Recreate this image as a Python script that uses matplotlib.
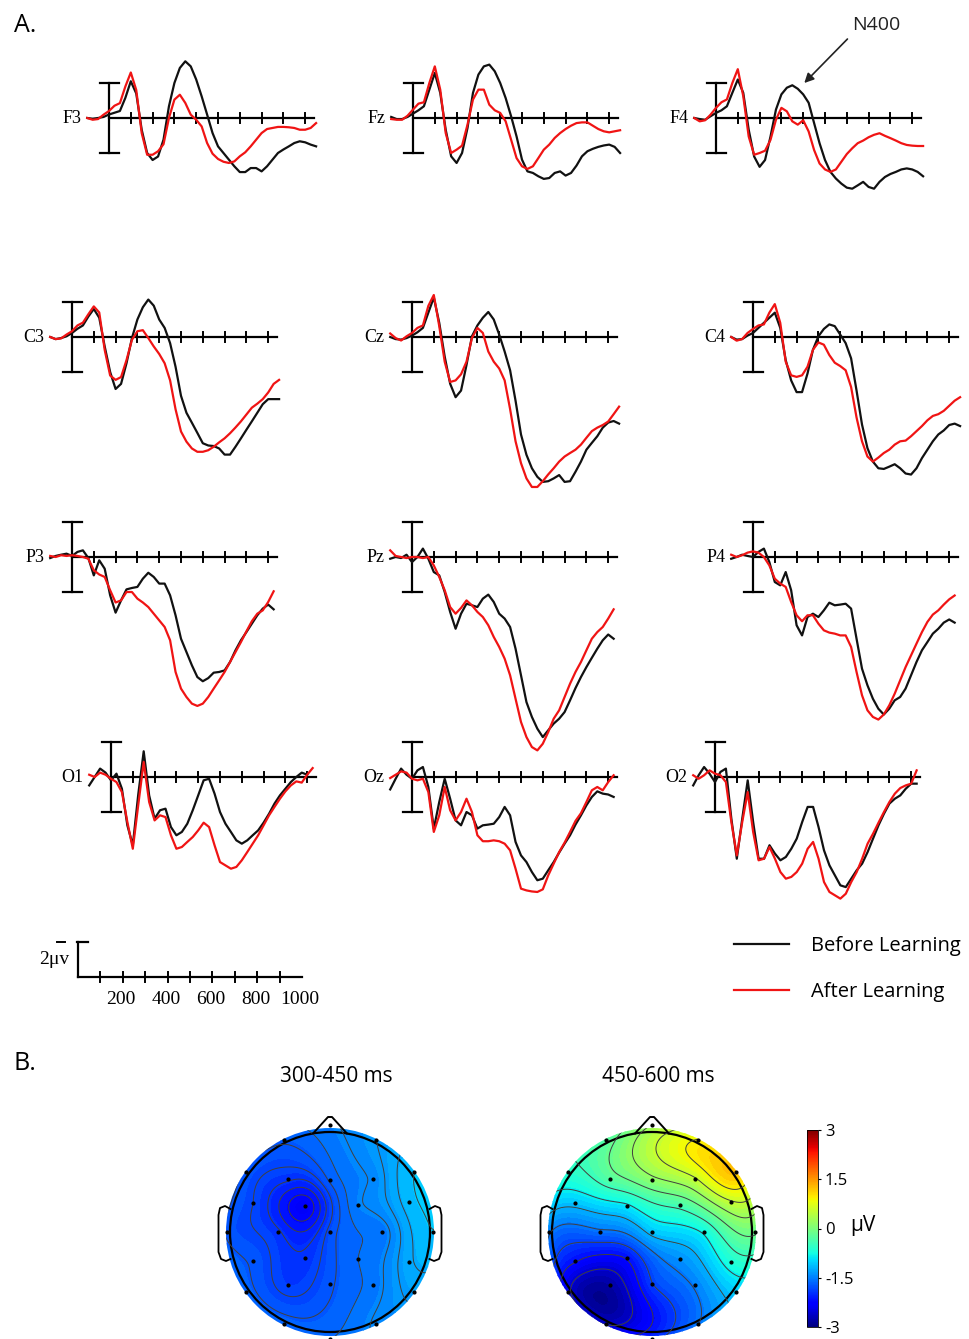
import numpy as np
import matplotlib
matplotlib.use("Agg")
import matplotlib.pyplot as plt
from matplotlib.patches import Circle
from matplotlib.lines import Line2D
from matplotlib.cm import ScalarMappable
from matplotlib.colors import Normalize

plt.rcParams["font.family"] = ["Open Sans", "DejaVu Sans"]
SERIF = ["Liberation Serif", "DejaVu Serif"]
nan = np.nan

# ---------------- data ----------------
# time axis (ms), one sample every 25 ms
times = list(range(-100, 951, 25))

channels = ["F3", "Fz", "F4", "C3", "Cz", "C4", "P3", "Pz", "P4", "O1", "Oz", "O2"]

# amplitudes in microvolts (negative plotted up)
f3_before = [0.0, 0.04, 0.0, -0.06, -0.2, -0.3, -0.4, -1.15, -2.1, -1.4, 0.67, 2.0, 2.4, 2.2, 1.24, -0.67, -2.0, -2.86, -3.24, -2.95, -2.2, -1.24, -0.2, 0.86, 1.62, 2.0, 2.38, 2.76, 3.09, 3.09, 2.86, 2.86, 3.05, 2.76, 2.38, 2.0, 1.8, 1.62, 1.43, 1.33, 1.39, 1.52, 1.62]
f3_after = [0.0, 0.1, 0.06, -0.19, -0.4, -0.7, -0.85, -1.8, -2.6, -1.6, 0.86, 2.1, 2.1, 1.9, 1.5, 0.0, -1.05, -1.33, -0.86, -0.19, 0.1, 0.48, 1.43, 2.04, 2.34, 2.5, 2.57, 2.48, 2.19, 1.96, 1.62, 1.24, 0.86, 0.63, 0.57, 0.51, 0.51, 0.53, 0.57, 0.67, 0.67, 0.57, 0.29]
fz_before = [-0.06, 0.06, 0.06, -0.06, -0.25, -0.44, -0.67, -1.62, -2.57, -1.43, 0.67, 2.19, 2.57, 2.0, 0.57, -1.43, -2.48, -2.95, -3.05, -2.67, -2.0, -1.14, -0.1, 1.05, 2.38, 3.05, 3.14, 3.33, 3.48, 3.43, 3.14, 3.05, 3.29, 3.14, 2.72, 2.19, 1.9, 1.76, 1.65, 1.57, 1.52, 1.65, 2.0]
fz_after = [0.06, 0.1, 0.1, -0.13, -0.48, -0.82, -0.9, -2.0, -2.95, -1.62, 0.86, 2.0, 1.81, 1.58, 0.38, -1.05, -1.62, -1.62, -0.76, -0.44, -0.29, 0.19, 1.24, 2.29, 2.76, 2.91, 2.76, 2.29, 1.81, 1.52, 1.14, 0.86, 0.63, 0.44, 0.29, 0.25, 0.25, 0.44, 0.63, 0.76, 0.82, 0.76, 0.7]
f4_before = [0.0, 0.06, 0.1, -0.1, -0.29, -0.44, -0.67, -1.44, -2.2, -1.44, 0.67, 2.2, 2.79, 2.4, 1.06, -0.48, -1.35, -1.73, -1.87, -1.67, -1.35, -0.87, 0.29, 1.44, 2.4, 3.08, 3.46, 3.75, 3.98, 4.04, 3.85, 3.65, 3.94, 4.04, 3.65, 3.37, 3.2, 3.08, 2.94, 2.88, 2.94, 3.08, 3.33]
f4_after = [0.0, 0.19, 0.13, -0.19, -0.58, -0.9, -1.06, -2.0, -2.79, -1.25, 1.06, 2.1, 2.0, 1.87, 1.25, 0.1, -0.58, -0.38, 0.19, 0.38, 0.13, 0.77, 1.83, 2.6, 2.94, 3.08, 2.94, 2.5, 2.06, 1.73, 1.44, 1.29, 1.1, 0.96, 0.87, 1.02, 1.15, 1.29, 1.44, 1.54, 1.58, 1.6, 1.6]
c3_before = [0.0, 0.12, 0.06, -0.04, -0.23, -0.47, -0.66, -1.17, -1.6, -1.1, 0.54, 2.0, 2.97, 2.68, 1.5, 0.06, -1.0, -1.7, -2.14, -1.79, -1.0, -0.52, 0.35, 1.7, 3.36, 4.33, 4.9, 5.48, 6.07, 6.2, 6.23, 6.37, 6.72, 6.72, 6.27, 5.79, 5.3, 4.82, 4.33, 3.84, 3.55, 3.55, 3.55]
c3_after = [0.0, 0.12, 0.08, -0.14, -0.33, -0.66, -0.82, -1.3, -1.75, -1.4, 0.74, 2.2, 2.45, 2.29, 1.32, 0.16, -0.33, -0.39, 0.06, 0.54, 0.97, 1.5, 2.48, 4.13, 5.4, 5.98, 6.37, 6.56, 6.56, 6.47, 6.27, 6.02, 5.79, 5.5, 5.17, 4.82, 4.43, 4.04, 3.81, 3.55, 3.17, 2.68, 2.45]
cz_before = [0.0, 0.12, 0.15, 0.06, -0.08, -0.27, -0.52, -1.39, -2.26, -0.81, 1.12, 2.67, 3.44, 3.06, 1.6, -0.04, -0.66, -1.1, -1.43, -1.0, -0.14, 0.83, 1.9, 3.64, 5.57, 6.73, 7.5, 7.99, 8.28, 8.24, 8.08, 7.89, 8.28, 8.24, 7.7, 7.12, 6.44, 6.05, 5.67, 5.18, 4.89, 4.8, 4.95]
cz_after = [-0.2, 0.06, 0.2, -0.04, -0.23, -0.52, -0.66, -1.78, -2.4, -0.62, 1.41, 2.57, 2.48, 2.13, 1.41, 0.06, -0.52, -0.23, 0.83, 1.41, 1.8, 2.48, 4.12, 5.96, 7.21, 8.08, 8.57, 8.57, 8.24, 7.85, 7.5, 7.12, 6.83, 6.63, 6.44, 6.15, 5.76, 5.38, 5.18, 5.03, 4.83, 4.41, 3.98]
c4_before = [0.0, 0.15, 0.12, -0.08, -0.23, -0.52, -0.81, -1.1, -1.39, -0.52, 1.32, 2.48, 3.15, 3.15, 2.09, 0.73, -0.04, -0.46, -0.72, -0.62, -0.14, 0.35, 1.22, 3.06, 5.0, 6.35, 7.12, 7.5, 7.54, 7.41, 7.27, 7.5, 7.8, 7.86, 7.5, 6.92, 6.44, 5.96, 5.57, 5.34, 5.03, 4.95, 5.09]
c4_after = [0.0, 0.21, 0.12, -0.23, -0.46, -0.66, -0.72, -1.39, -1.88, -0.81, 1.41, 2.19, 2.28, 2.19, 1.7, 0.73, 0.31, 0.44, 1.03, 1.47, 1.66, 1.9, 2.86, 4.6, 5.96, 6.83, 7.12, 6.89, 6.63, 6.44, 6.15, 5.96, 5.92, 5.67, 5.38, 5.09, 4.76, 4.51, 4.41, 4.22, 3.93, 3.64, 3.44]
p3_before = [0.06, -0.06, -0.13, -0.19, -0.06, -0.29, -0.38, 0.06, 1.05, 0.19, 0.67, 2.19, 3.18, 2.48, 1.85, 1.77, 1.71, 1.24, 0.9, 1.14, 1.52, 1.52, 2.19, 3.33, 4.67, 5.43, 6.19, 6.86, 7.1, 6.92, 6.61, 6.57, 6.48, 6.0, 5.33, 4.76, 4.29, 3.81, 3.33, 2.95, 2.72, 2.99, nan]
p3_after = [-0.06, 0.0, -0.1, -0.06, -0.1, -0.06, 0.0, 0.1, 0.76, 1.0, 1.14, 1.9, 2.6, 2.48, 2.0, 2.0, 2.38, 2.6, 2.86, 3.24, 3.62, 4.0, 4.76, 6.57, 7.52, 8.0, 8.38, 8.51, 8.38, 8.0, 7.52, 7.05, 6.57, 6.0, 5.43, 4.86, 4.25, 3.67, 3.24, 3.05, 2.57, 1.96, nan]
pz_before = [0.1, 0.0, 0.06, -0.13, 0.29, 0.0, -0.48, 0.1, 0.86, 1.05, 2.0, 3.14, 4.1, 3.24, 2.67, 2.76, 2.86, 2.38, 2.15, 2.57, 3.24, 3.52, 4.0, 5.24, 6.76, 8.29, 9.14, 9.81, 10.29, 9.9, 9.52, 9.24, 8.86, 8.19, 7.49, 6.86, 6.29, 5.76, 5.24, 4.76, 4.43, 4.67, nan]
pz_after = [-0.38, -0.06, 0.0, 0.06, 0.0, 0.0, 0.06, 0.0, 0.48, 1.14, 1.9, 2.86, 3.24, 2.91, 2.48, 2.76, 3.14, 3.43, 3.9, 4.57, 5.14, 5.81, 6.76, 8.1, 9.43, 10.29, 10.86, 11.05, 10.67, 10.0, 9.24, 8.76, 8.0, 7.24, 6.57, 6.0, 5.33, 4.67, 4.29, 4.0, 3.52, 2.99, nan]
p4_before = [0.1, 0.0, -0.13, -0.06, 0.0, -0.29, -0.48, 0.29, 1.43, 1.62, 0.86, 1.9, 3.9, 4.48, 3.43, 3.24, 3.43, 3.05, 2.61, 2.76, 2.72, 2.67, 2.95, 4.67, 6.38, 7.33, 8.1, 8.67, 9.0, 8.67, 8.19, 8.0, 7.52, 6.76, 6.0, 5.33, 4.86, 4.38, 4.1, 3.75, 3.57, 3.75, nan]
p4_after = [-0.13, 0.0, -0.1, -0.25, -0.32, -0.25, 0.0, 0.48, 1.24, 1.52, 1.71, 2.57, 3.33, 3.67, 3.33, 3.33, 3.81, 4.19, 4.32, 4.38, 4.48, 4.48, 5.14, 6.57, 7.9, 8.76, 9.14, 9.29, 9.0, 8.48, 7.81, 7.05, 6.29, 5.62, 4.95, 4.29, 3.71, 3.29, 3.05, 2.72, 2.42, 2.2, nan]
o1_before = [0.48, 0.0, -0.48, -0.25, 0.19, -0.19, 0.67, 2.76, 3.9, 1.0, -1.47, 1.05, 2.38, 1.9, 1.81, 2.86, 3.33, 3.14, 2.67, 1.9, 1.05, 0.19, 0.1, 0.95, 2.0, 2.67, 3.14, 3.62, 3.81, 3.62, 3.33, 3.05, 2.61, 2.1, 1.52, 1.05, 0.67, 0.29, 0.0, -0.25, -0.13, nan, nan]
o1_after = [-0.13, 0.0, -0.25, -0.13, 0.1, 0.29, 0.86, 2.57, 4.1, 1.6, -0.86, 1.43, 2.48, 2.19, 2.29, 3.33, 4.1, 4.0, 3.71, 3.43, 3.05, 2.61, 2.86, 3.9, 4.86, 5.05, 5.24, 5.14, 4.76, 4.29, 3.81, 3.33, 2.76, 2.19, 1.71, 1.24, 0.82, 0.48, 0.25, 0.32, -0.13, -0.51, nan]
oz_before = [0.71, 0.1, -0.48, -0.13, 0.1, -0.38, -0.57, 0.57, 2.95, 1.43, 0.1, 1.24, 2.48, 2.76, 2.0, 2.19, 2.95, 2.76, 2.72, 2.67, 2.29, 1.71, 2.19, 3.71, 4.48, 4.86, 5.43, 5.9, 5.81, 5.33, 4.86, 4.32, 3.81, 3.33, 2.72, 2.19, 1.62, 1.14, 0.82, 0.95, 1.0, 1.14, nan]
oz_after = [0.06, -0.13, -0.32, -0.25, 0.1, 0.19, 0.1, 0.86, 3.14, 2.19, 0.57, 1.9, 2.48, 2.0, 1.24, 2.0, 3.33, 3.67, 3.67, 3.62, 3.67, 3.81, 4.19, 5.24, 6.38, 6.48, 6.54, 6.57, 6.42, 5.62, 4.95, 4.29, 3.75, 3.14, 2.51, 2.07, 1.43, 0.76, 0.57, 0.76, 0.29, -0.1, nan]
o2_before = [0.48, -0.1, -0.57, -0.19, 0.29, -0.29, -0.48, 2.38, 4.67, 2.38, 0.19, 2.57, 4.67, 4.67, 3.9, 4.38, 4.76, 4.57, 4.1, 3.52, 2.57, 1.71, 1.71, 2.86, 4.19, 5.05, 5.62, 6.19, 6.29, 5.81, 5.33, 4.95, 4.29, 3.52, 2.76, 2.1, 1.52, 1.24, 1.05, 0.67, 0.38, 0.38, nan]
o2_after = [-0.1, 0.1, -0.1, -0.38, -0.19, -0.1, 0.29, 2.57, 4.48, 2.57, 0.86, 3.14, 4.76, 4.67, 4.0, 4.67, 5.43, 5.81, 5.71, 5.43, 4.95, 4.1, 3.71, 4.67, 6.0, 6.57, 6.76, 6.95, 6.67, 6.0, 5.43, 4.67, 3.81, 3.24, 2.61, 2.0, 1.43, 0.95, 0.63, 0.48, 0.38, -0.38, nan]

before = [f3_before, fz_before, f4_before, c3_before, cz_before, c4_before,
          p3_before, pz_before, p4_before, o1_before, oz_before, o2_before]
after = [f3_after, fz_after, f4_after, c3_after, cz_after, c4_after,
         p3_after, pz_after, p4_after, o1_after, oz_after, o2_after]

# scalp map electrodes (head radius = 1) and mean amplitudes
elec_names = ["Fpz", "Fp1", "Fp2", "F7", "F3", "Fz", "F4", "F8", "FT7", "FC3", "FC4", "FT8",
              "T7", "C3", "Cz", "C4", "T8", "TP7", "CP3", "CP4", "TP8",
              "P7", "P3", "Pz", "P4", "P8", "O1", "Oz", "O2"]
elec_x = [0.0, -0.46, 0.46, -0.84, -0.42, 0.0, 0.43, 0.84, -0.77, -0.25, 0.28, 0.79,
          -1.03, -0.52, 0.0, 0.52, 1.03, -0.77, -0.25, 0.28, 0.79,
          -0.84, -0.42, 0.0, 0.43, 0.84, -0.46, 0.0, 0.46]
elec_y = [1.07, 0.92, 0.92, 0.6, 0.53, 0.52, 0.53, 0.6, 0.29, 0.26, 0.27, 0.3,
          0.0, 0.0, 0.0, 0.0, 0.0, -0.29, -0.26, -0.27, -0.3,
          -0.6, -0.53, -0.52, -0.53, -0.6, -0.92, -1.07, -0.92]
map_300_450 = [-1.5, -1.7, -1.35, -1.75, -1.95, -1.7, -1.45, -1.1, -1.85, -2.35, -1.5, -1.15,
               -1.75, -1.95, -1.8, -1.55, -1.1, -1.75, -1.95, -1.6, -1.25,
               -1.65, -1.9, -1.75, -1.55, -1.3, -1.65, -1.6, -1.45]
map_450_600 = [0.2, -0.3, 0.9, -0.6, -0.3, 0.1, 0.5, 1.2, -1.1, -0.9, -0.4, 0.5,
               -1.5, -1.6, -1.1, -0.8, -0.1, -2.2, -2.2, -1.4, -0.7,
               -2.5, -2.8, -1.9, -1.5, -1.05, -2.6, -2.0, -1.55]
map_titles = ["300-450 ms", "450-600 ms"]

# ---------------- layout ----------------
W, H = 970, 1339
KX, KY = 0.218, 17.5          # pixels per ms, pixels per microvolt
origin_x = [109, 413, 716, 72, 412, 753, 72, 412, 753, 111, 412, 715]
origin_y = [118, 118, 118, 337, 337, 337, 557, 557, 557, 777, 777, 777]

fig = plt.figure(figsize=(W / 100, H / 100), dpi=100)


def panel_axes(ox, oy, kx=KX, t0=-200, t1=1050, v0=-6, v1=12):
    left = ox + t0 * kx
    top = oy + v0 * KY
    w = (t1 - t0) * kx
    h = (v1 - v0) * KY
    ax = fig.add_axes([left / W, 1 - (top + h) / H, w / W, h / H])
    ax.set_xlim(t0, t1)
    ax.set_ylim(v1, v0)
    ax.set_axis_off()
    return ax


def draw_frame(ax, t_end=940):
    ax.plot([0, t_end], [0, 0], color="k", lw=1.6)
    for tk in range(100, 1000, 100):
        if tk < t_end:
            ax.plot([tk, tk], [-0.3, 0.3], color="k", lw=1.4)
    ax.plot([0, 0], [-2, 2], color="k", lw=1.6)
    ax.plot([-40, 45], [-2, -2], color="k", lw=1.6)
    ax.plot([-40, 45], [2, 2], color="k", lw=1.6)


t = np.array(times)
panel_axes_list = []
for i, ch in enumerate(channels):
    ax = panel_axes(origin_x[i], origin_y[i])
    draw_frame(ax)
    ax.plot(t, before[i], color="#111111", lw=1.6, solid_joinstyle="round")
    ax.plot(t, after[i], color="#f01414", lw=1.6, solid_joinstyle="round")
    ax.text(-125, 0.05, ch, ha="right", va="center", fontsize=13, family=SERIF)
    panel_axes_list.append(ax)

# N400 annotation on F4
panel_axes_list[2].annotate(
    "N400", xy=(405, -2.0), xytext=(735, -5.3), ha="center", va="center",
    fontsize=14, color="#222222",
    arrowprops=dict(arrowstyle="-|>", color="#222222", lw=1.2,
                    mutation_scale=14, relpos=(0.0, 0.0), shrinkA=2, shrinkB=0))

# calibration axis
sax = panel_axes(78, 977, kx=0.224, t0=-200, t1=1100, v0=-4, v1=3)
sax.plot([0, 1000], [0, 0], color="k", lw=1.6)
for tk in range(100, 1000, 100):
    sax.plot([tk, tk], [-0.3, 0.3], color="k", lw=1.4)
sax.plot([0, 0], [0, -2], color="k", lw=1.6)
sax.plot([-5, 45], [-2, -2], color="k", lw=1.6)
sax.plot([-95, -60], [-2, -2], color="k", lw=1.4)
sax.text(-40, -1.0, "2\u03bcv", ha="right", va="center", fontsize=14, family=SERIF)
for lab in [200, 400, 600, 800, 1000]:
    sax.text(lab - 8, 1.3, str(lab), ha="center", va="center", fontsize=14, family=SERIF)

# legend
h1 = Line2D([], [], color="#111111", lw=1.6)
h2 = Line2D([], [], color="#f01414", lw=1.6)
fig.legend([h1, h2], ["Before Learning", "After Learning"], loc="upper left",
           bbox_to_anchor=(716 / W, 1 - 918 / H), frameon=False, fontsize=14.5,
           handlelength=2.7, handletextpad=1.1, labelspacing=1.3)

fig.text(14 / W, 1 - 25 / H, "A.", fontsize=18, ha="left", va="center")
fig.text(14 / W, 1 - 1063 / H, "B.", fontsize=18, ha="left", va="center")


# ---------------- scalp maps ----------------
def v4_interp(x, y, v, gx, gy):
    z = np.asarray(x) + 1j * np.asarray(y)
    d = np.abs(z[:, None] - z[None, :])
    with np.errstate(divide="ignore", invalid="ignore"):
        g = np.where(d > 0, d ** 2 * (np.log(d) - 1), 0.0)
    wts = np.linalg.solve(g, np.asarray(v))
    zi = gx.ravel() + 1j * gy.ravel()
    d2 = np.abs(zi[:, None] - z[None, :])
    with np.errstate(divide="ignore", invalid="ignore"):
        g2 = np.where(d2 > 0, d2 ** 2 * (np.log(d2) - 1), 0.0)
    return (g2 @ wts).reshape(gx.shape)


def topo(cx, cy, vals, title, r=100, ext=1.35):
    ax = fig.add_axes([(cx - ext * r) / W, 1 - (cy + ext * r) / H, 2 * ext * r / W, 2 * ext * r / H])
    ax.set_xlim(-ext, ext)
    ax.set_ylim(-ext, ext)
    ax.set_axis_off()
    gx, gy = np.meshgrid(np.linspace(-1.08, 1.08, 160), np.linspace(-1.08, 1.08, 160))
    gz = v4_interp(elec_x, elec_y, vals, gx, gy)
    cf = ax.contourf(gx, gy, gz, levels=np.linspace(-3.2, 3.2, 65), cmap="jet", vmin=-3, vmax=3)
    cf.set_clip_path(Circle((0, 0), 1.04, transform=ax.transData))
    lines = ax.contour(gx, gy, gz, levels=np.linspace(gz.min(), gz.max(), 13)[1:-1],
                       colors="#404040", linewidths=0.7, linestyles="solid")
    lines.set_clip_path(Circle((0, 0), 1.04, transform=ax.transData))
    ax.add_patch(Circle((0, 0), 1.0, fill=False, lw=1.6, color="k"))
    ax.plot([-0.17, -0.02, 0.02, 0.17], [0.985, 1.15, 1.15, 0.985], color="k", lw=1.4)
    for s in (-1, 1):
        ax.plot([s * 0.995, s * 1.05, s * 1.1, s * 1.115, s * 1.115, s * 1.09, s * 1.04, s * 0.995],
                [0.23, 0.26, 0.24, 0.17, -0.2, -0.27, -0.29, -0.27], color="k", lw=1.3)
    ax.scatter(elec_x, elec_y, s=4, color="k", zorder=5)
    fig.text(cx / W + 6 / W, 1 - 1077 / H, title, ha="center", va="center", fontsize=15)


topo(330, 1232, map_300_450, map_titles[0])
topo(652, 1232, map_450_600, map_titles[1])

cax = fig.add_axes([807 / W, 1 - 1327 / H, 11 / W, 197 / H])
cb = fig.colorbar(ScalarMappable(norm=Normalize(-3, 3), cmap="jet"), cax=cax,
                  ticks=[-3, -1.5, 0, 1.5, 3])
cb.ax.set_yticklabels(["-3", "-1.5", "0", "1.5", "3"])
cb.ax.tick_params(labelsize=12, length=2, width=0.8, pad=3)
cb.outline.set_linewidth(0.6)
fig.text(850 / W, 1 - 1225 / H, "\u03bcV", ha="left", va="center", fontsize=15)

fig.savefig("out.png", dpi=100)
